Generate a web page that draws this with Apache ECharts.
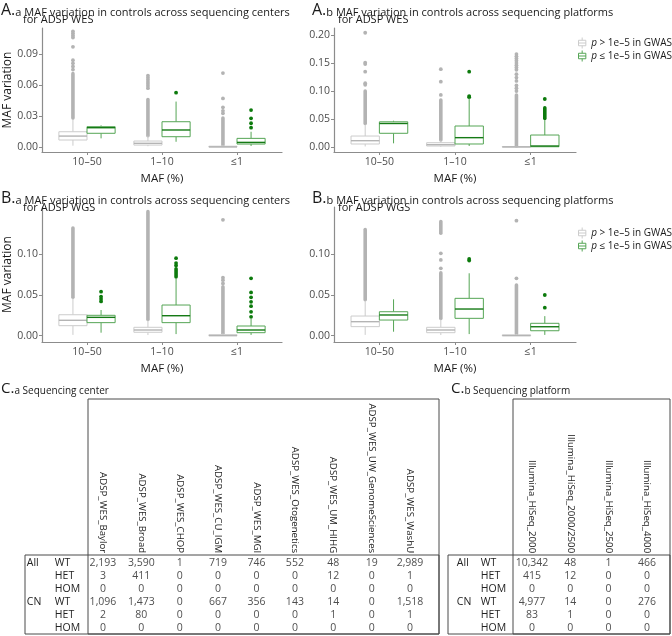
<!DOCTYPE html>
<html>
<head>
<meta charset="utf-8">
<script src="https://cdn.jsdelivr.net/npm/echarts@6/dist/echarts.min.js"></script>
<style>
html, body { margin: 0; padding: 0; background: #fff; }
#main { width: 672px; height: 636px; }
</style>
</head>
<body>
<div id="main"></div>
<script>
var FONT = 'Open Sans';

// ---------- data ----------
var mafBins = ['10–50', '1–10', '≤1'];
var legendNames = ['p > 1e–5 in GWAS', 'p ≤ 1e–5 in GWAS'];

// box stats per MAF bin: [lower whisker, Q1, median, Q3, upper whisker]
// outliers: [bin, value]; dense outlier runs: [bin, from, to]

// A.a  WES, sequencing centers
var aaGrayBox = [[0.0013, 0.0068, 0.0106, 0.0148, 0.027], [0.0008, 0.0019, 0.0036, 0.0058, 0.011], [0, 0, 0.0002, 0.0008, 0.002]];
var aaGreenBox = [[0.0084, 0.0133, 0.0187, 0.0197, 0.021], [0.0051, 0.010, 0.0165, 0.0245, 0.044], [0.001, 0.0029, 0.0045, 0.0084, 0.0148]];
var aaGrayDense = [[1, 0.028, 0.071], [2, 0.011, 0.046], [3, 0.002, 0.028]];
var aaGrayOut = [[1, 0.075], [1, 0.078], [1, 0.081], [1, 0.084], [1, 0.097], [1, 0.106], [1, 0.108], [1, 0.110], [1, 0.112],
  [2, 0.057], [2, 0.059], [2, 0.061], [2, 0.063], [2, 0.065], [2, 0.067], [2, 0.069],
  [3, 0.0326], [3, 0.035], [3, 0.0384], [3, 0.047], [3, 0.0716]];
var aaGreenDense = [];
var aaGreenOut = [[2, 0.0526], [3, 0.0187], [3, 0.023], [3, 0.0278], [3, 0.0358]];

// A.b  WES, sequencing platforms
var abGrayBox = [[0.001, 0.0054, 0.0113, 0.0196, 0.040], [0.0005, 0.0018, 0.0042, 0.0077, 0.012], [0, 0, 0.0002, 0.0008, 0.002]];
var abGreenBox = [[0.0066, 0.0245, 0.042, 0.045, 0.047], [0.0018, 0.0054, 0.0167, 0.0375, 0.087], [0.0005, 0.0005, 0.0018, 0.0214, 0.048]];
var abGrayDense = [[1, 0.042, 0.100], [2, 0.0125, 0.084], [3, 0.002, 0.093]];
var abGrayOut = [[1, 0.111], [1, 0.114], [1, 0.1345], [1, 0.148], [1, 0.1506], [1, 0.204],
  [2, 0.093], [2, 0.1166], [2, 0.139],
  [3, 0.100], [3, 0.105], [3, 0.110], [3, 0.118], [3, 0.124], [3, 0.130], [3, 0.138], [3, 0.142], [3, 0.146], [3, 0.150], [3, 0.154], [3, 0.158], [3, 0.162], [3, 0.166]];
var abGreenDense = [[3, 0.051, 0.070]];
var abGreenOut = [[2, 0.089], [2, 0.091], [2, 0.1345], [3, 0.0857]];

// B.a  WGS, sequencing centers
var baGrayBox = [[0.001, 0.0123, 0.0189, 0.0257, 0.046], [0.0008, 0.0042, 0.007, 0.0103, 0.019], [0, 0, 0.0002, 0.0012, 0.003]];
var baGreenBox = [[0.0037, 0.016, 0.0225, 0.025, 0.0315], [0.002, 0.016, 0.0245, 0.0376, 0.070], [0.001, 0.0037, 0.007, 0.0119, 0.021]];
var baGrayDense = [[1, 0.047, 0.132], [2, 0.020, 0.152], [3, 0.003, 0.060]];
var baGrayOut = [[3, 0.064], [3, 0.068], [3, 0.071], [3, 0.142]];
var baGreenDense = [[2, 0.072, 0.082]];
var baGreenOut = [[1, 0.042], [1, 0.045], [1, 0.048], [1, 0.054], [2, 0.086], [2, 0.089], [2, 0.095],
  [3, 0.0232], [3, 0.0293], [3, 0.0362], [3, 0.0415], [3, 0.047], [3, 0.053], [3, 0.0703]];

// B.b  WGS, sequencing platforms
var bbGrayBox = [[0.001, 0.0111, 0.0172, 0.0241, 0.043], [0.0008, 0.0037, 0.007, 0.0103, 0.020], [0, 0, 0.0002, 0.001, 0.002]];
var bbGreenBox = [[0.0049, 0.0192, 0.0254, 0.0294, 0.0446], [0.002, 0.0213, 0.0327, 0.0458, 0.0765], [0.001, 0.0061, 0.011, 0.0152, 0.024]];
var bbGrayDense = [[1, 0.044, 0.130], [2, 0.021, 0.077], [2, 0.1255, 0.140], [3, 0.002, 0.062]];
var bbGrayOut = [[2, 0.0826], [2, 0.0928], [2, 0.101], [3, 0.0703], [3, 0.141]];
var bbGreenDense = [];
var bbGreenOut = [[2, 0.092], [2, 0.094], [3, 0.0343], [3, 0.0499]];

var aaTicks = [0, 0.03, 0.06, 0.09];
var abTicks = [0, 0.05, 0.10, 0.15, 0.20];
var bTicks = [0, 0.05, 0.10];

// C tables
var rowGroups = ['All', '', '', 'CN', '', ''];
var rowTypes = ['WT', 'HET', 'HOM', 'WT', 'HET', 'HOM'];
var centers = ['ADSP_WES_Baylor', 'ADSP_WES_Broad', 'ADSP_WES_CHOP', 'ADSP_WES_CU_IGM', 'ADSP_WES_MGI',
  'ADSP_WES_Otogenetics', 'ADSP_WES_UM_HIHG', 'ADSP_WES_UW_GenomeSciences', 'ADSP_WES_WashU'];
var centerCounts = [
  [2193, 3590, 1, 719, 746, 552, 48, 19, 2989],
  [3, 411, 0, 0, 0, 0, 12, 0, 1],
  [0, 0, 0, 0, 0, 0, 0, 0, 0],
  [1096, 1473, 0, 667, 356, 143, 14, 0, 1518],
  [2, 80, 0, 0, 0, 0, 1, 0, 1],
  [0, 0, 0, 0, 0, 0, 0, 0, 0]
];
var platforms = ['Illumina_HiSeq_2000', 'Illumina_HiSeq_2000/2500', 'Illumina_HiSeq_2500', 'Illumina_HiSeq_4000'];
var platformCounts = [
  [10342, 48, 1, 466],
  [415, 12, 0, 0],
  [0, 0, 0, 0],
  [4977, 14, 0, 276],
  [83, 1, 0, 0],
  [0, 0, 0, 0]
];

// ---------- styles ----------
var GRAY = { line: '#cccccc', med: '#b4b4b4', pt: '#b3b3b3' };
var GREEN = { line: '#55a555', med: '#157a15', pt: '#0c7a0c' };
var AXIS = '#8c8c8c';
var HALF = 0.1875;

function fmt(n) {
  return String(n).replace(/\B(?=(\d{3})+(?!\d))/g, ',');
}

function boxSeries(name, g, stats, side, col) {
  return {
    type: 'custom', name: name, xAxisIndex: g, yAxisIndex: g,
    data: stats.map(function (s, i) { return [i + 1].concat(s); }),
    encode: { x: 0, y: [1, 2, 3, 4, 5] },
    z: 3,
    renderItem: function (params, api) {
      var x = api.value(0) + side * HALF;
      var hw = api.size([HALF, 0])[0];
      var lo = api.coord([x, api.value(1)]);
      var q1 = api.coord([x, api.value(2)]);
      var md = api.coord([x, api.value(3)]);
      var q3 = api.coord([x, api.value(4)]);
      var hi = api.coord([x, api.value(5)]);
      var cx = lo[0];
      var ls = { stroke: col.line, lineWidth: 1 };
      return {
        type: 'group', children: [
          { type: 'line', shape: { x1: cx, y1: lo[1], x2: cx, y2: q1[1] }, style: ls },
          { type: 'line', shape: { x1: cx, y1: q3[1], x2: cx, y2: hi[1] }, style: ls },
          { type: 'rect', shape: { x: cx - hw, y: q3[1], width: 2 * hw, height: Math.max(q1[1] - q3[1], 0.5) },
            style: { fill: '#fff', stroke: col.line, lineWidth: 1 } },
          { type: 'line', shape: { x1: cx - hw, y1: md[1], x2: cx + hw, y2: md[1] }, style: { stroke: col.med, lineWidth: 1.4 } }
        ]
      };
    }
  };
}

function denseSeries(g, runs, side, col) {
  return {
    type: 'custom', xAxisIndex: g, yAxisIndex: g, data: runs, z: 2,
    encode: { x: 0, y: [1, 2] },
    renderItem: function (params, api) {
      var x = api.value(0) + side * HALF;
      var a = api.coord([x, api.value(1)]);
      var b = api.coord([x, api.value(2)]);
      return { type: 'line', shape: { x1: a[0], y1: a[1], x2: b[0], y2: b[1] },
        style: { stroke: col.pt, lineWidth: 3.6, lineCap: 'round' } };
    }
  };
}

function outSeries(g, pts, side, col) {
  return {
    type: 'scatter', xAxisIndex: g, yAxisIndex: g, z: 2, symbolSize: 3.8,
    itemStyle: { color: col.pt, opacity: 1 },
    data: pts.map(function (p) { return [p[0] + side * HALF, p[1]]; })
  };
}

var panels = [
  { box: [aaGrayBox, aaGreenBox], dense: [aaGrayDense, aaGreenDense], out: [aaGrayOut, aaGreenOut], ticks: aaTicks, min: -0.0048, max: 0.1152,
    grid: { left: 42, top: 28, width: 240, height: 124 }, yName: 'MAF variation' },
  { box: [abGrayBox, abGreenBox], dense: [abGrayDense, abGreenDense], out: [abGrayOut, abGreenOut], ticks: abTicks, min: -0.0089, max: 0.2125,
    grid: { left: 334, top: 28, width: 242, height: 124 }, yName: '' },
  { box: [baGrayBox, baGreenBox], dense: [baGrayDense, baGreenDense], out: [baGrayOut, baGreenOut], ticks: bTicks, min: -0.0077, max: 0.1577,
    grid: { left: 42, top: 207, width: 240, height: 135 }, yName: 'MAF variation' },
  { box: [bbGrayBox, bbGreenBox], dense: [bbGrayDense, bbGreenDense], out: [bbGrayOut, bbGreenOut], ticks: bTicks, min: -0.0077, max: 0.1577,
    grid: { left: 334, top: 207, width: 242, height: 135 }, yName: '' }
];

var grids = [], xAxes = [], yAxes = [], series = [];
var nameTxt = { fontFamily: FONT, color: '#1a1a1a', fontSize: 11.5 };

panels.forEach(function (p, g) {
  p.grid.outerBoundsMode = 'none';
  grids.push(p.grid);
  xAxes.push({
    type: 'value', gridIndex: g, min: 0.4, max: 3.6,
    axisLine: { show: true, onZero: false, lineStyle: { color: AXIS, width: 1.2 } },
    axisTick: { show: true, customValues: [1, 2, 3], length: 3, lineStyle: { color: AXIS } },
    axisLabel: { customValues: [1, 2, 3], margin: 5, formatter: function (v) { return mafBins[Math.round(v) - 1]; }, fontFamily: FONT, color: '#4d4d4d', fontSize: 10.5 },
    splitLine: { show: false },
    name: 'MAF (%)', nameLocation: 'middle', nameGap: 21, nameTextStyle: nameTxt
  });
  yAxes.push({
    type: 'value', gridIndex: g, min: p.min, max: p.max,
    axisLine: { show: true, onZero: false, lineStyle: { color: AXIS, width: 1.2 } },
    axisTick: { show: true, customValues: p.ticks, length: 3, lineStyle: { color: AXIS } },
    axisLabel: { customValues: p.ticks, margin: 4, formatter: function (v) { return v.toFixed(2); }, fontFamily: FONT, color: '#4d4d4d', fontSize: 10.5 },
    splitLine: { show: false },
    name: p.yName, nameLocation: 'middle', nameGap: 27, nameTextStyle: { fontFamily: FONT, color: '#1a1a1a', fontSize: 12 }
  });
  [GRAY, GREEN].forEach(function (col, k) {
    var side = k === 0 ? -1 : 1;
    series.push(denseSeries(g, p.dense[k], side, col));
    series.push(outSeries(g, p.out[k], side, col));
    series.push(boxSeries(legendNames[k], g, p.box[k], side, col));
  });
});

// tables
function addTable(cols, counts, grid, gW, sW, margin) {
  var g = grids.length;
  grid.outerBoundsMode = 'none';
  grids.push(grid);
  xAxes.push({
    type: 'category', gridIndex: g, data: cols, position: 'top',
    axisLine: { show: false }, axisTick: { show: false }, splitLine: { show: false },
    axisLabel: { rotate: 90, margin: 3, interval: 0, fontFamily: FONT, fontSize: 9.7, color: '#222' }
  });
  yAxes.push({
    type: 'category', gridIndex: g, data: rowTypes.map(function (r, i) { return i; }), inverse: true,
    axisLine: { show: false }, axisTick: { show: false }, splitLine: { show: false },
    axisLabel: {
      interval: 0, margin: margin,
      formatter: function (v, i) { return '{g|' + (rowGroups[i] || ' ') + '}{s|' + rowTypes[i] + '}'; },
      rich: {
        g: { width: gW, align: 'left', fontFamily: FONT, fontSize: 10.5, color: '#222' },
        s: { width: sW, align: 'left', fontFamily: FONT, fontSize: 10.5, color: '#222' }
      }
    }
  });
  var data = [];
  counts.forEach(function (row, r) {
    row.forEach(function (v, c) { data.push([c, r, v]); });
  });
  series.push({
    type: 'scatter', xAxisIndex: g, yAxisIndex: g, symbol: 'rect', symbolSize: 1,
    itemStyle: { color: 'rgba(0,0,0,0)' }, silent: true,
    label: { show: true, position: 'inside', formatter: function (p) { return fmt(p.value[2]); },
      fontFamily: FONT, fontSize: 10.5, color: '#222' },
    data: data
  });
}
addTable(centers, centerCounts, { left: 83.8, top: 556.2, width: 345.4, height: 78 }, 28, 25, 4);
addTable(platforms, platformCounts, { left: 512.85, top: 556.2, width: 153.2, height: 78 }, 24, 28, 4);

function headTitle(left, top, big, small, bs, ss) {
  return {
    left: left, top: top, padding: 0,
    text: '{b|' + big + '}{s|' + small + '}',
    textStyle: { fontWeight: 'normal', rich: {
      b: { fontFamily: FONT, fontSize: bs, fontWeight: 'normal', color: '#1a1a1a', verticalAlign: 'bottom', lineHeight: 18 },
      s: { fontFamily: FONT, fontSize: ss, fontWeight: 'normal', color: '#1a1a1a', verticalAlign: 'bottom', lineHeight: 16 }
    } }
  };
}
function subTitle(left, top, t) {
  return { left: left, top: top, padding: 0, text: t,
    textStyle: { fontFamily: FONT, fontSize: 11, fontWeight: 'normal', color: '#1a1a1a' } };
}

var titles = [
  headTitle(1, 0, 'A.', 'a MAF variation in controls across sequencing centers', 16, 11),
  subTitle(23, 14, 'for ADSP WES'),
  headTitle(312, 0, 'A.', 'b MAF variation in controls across sequencing platforms', 16, 11),
  subTitle(338, 14, 'for ADSP WES'),
  headTitle(1, 188, 'B.', 'a MAF variation in controls across sequencing centers', 16, 11),
  subTitle(23, 202, 'for ADSP WGS'),
  headTitle(312, 188, 'B.', 'b MAF variation in controls across sequencing platforms', 16, 11),
  subTitle(338, 202, 'for ADSP WGS'),
  headTitle(1, 378, 'C.', 'a Sequencing center', 15, 10),
  headTitle(451, 378, 'C.', 'b Sequencing platform', 15, 10)
];

function legendAt(top) {
  return {
    left: 578, top: top, orient: 'vertical', itemWidth: 8, itemHeight: 11, itemGap: 1, selectedMode: false, padding: 0,
    data: [
      { name: legendNames[0], icon: 'path://M4,0V3M0,3H8V9H0ZM0,6H8M4,9V12', itemStyle: { color: '#fff', borderColor: GRAY.line, borderWidth: 1 } },
      { name: legendNames[1], icon: 'path://M4,0V3M0,3H8V9H0ZM0,6H8M4,9V12', itemStyle: { color: '#fff', borderColor: GREEN.line, borderWidth: 1 } }
    ],
    formatter: function (n) { return '{i|p}' + n.slice(1); },
    textStyle: { fontFamily: FONT, fontSize: 10, color: '#1a1a1a',
      rich: { i: { fontFamily: FONT, fontSize: 10, fontStyle: 'italic', color: '#1a1a1a' } } }
  };
}

var border = { stroke: '#4a4a4a', lineWidth: 1, fill: 'none' };
var graphics = [
  { type: 'rect', shape: { x: 88, y: 399, width: 351, height: 235 }, style: border, silent: true },
  { type: 'rect', shape: { x: 25, y: 555, width: 414, height: 79 }, style: border, silent: true },
  { type: 'rect', shape: { x: 513, y: 399, width: 157, height: 235 }, style: border, silent: true },
  { type: 'rect', shape: { x: 448, y: 555, width: 222, height: 79 }, style: border, silent: true }
];

var myChart = echarts.init(document.getElementById('main'));
myChart.setOption({
  backgroundColor: '#fff',
  animation: false,
  title: titles,
  legend: [legendAt(37), legendAt(227)],
  grid: grids,
  xAxis: xAxes,
  yAxis: yAxes,
  series: series,
  graphic: graphics
});
</script>
</body>
</html>
